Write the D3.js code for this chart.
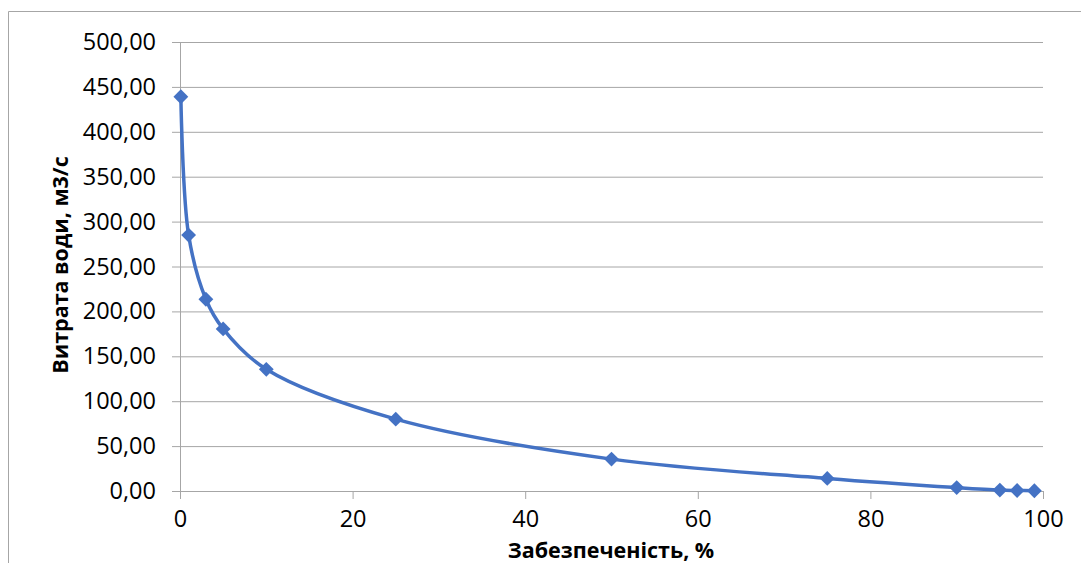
<!DOCTYPE html>
<html>
<head>
<meta charset="utf-8">
<script src="https://cdn.jsdelivr.net/npm/d3@7"></script>
<style>
  body { margin: 0; background: #fff; }
  svg { display: block; font-family: "Open Sans", Calibri, sans-serif; }
</style>
</head>
<body>
<div id="chart"></div>
<script>
// data
var probability = [0.1, 1, 3, 5, 10, 25, 50, 75, 90, 95, 97, 99];
var discharge = [439, 285, 213.5, 180.5, 135.5, 80, 35.5, 14, 3.8, 1.0, 0.6, 0.3];
var yTicks = [0, 50, 100, 150, 200, 250, 300, 350, 400, 450, 500];
var xTicks = [0, 20, 40, 60, 80, 100];

var data = probability.map((p, i) => ({x: p, y: discharge[i]}));

var W = 1081, H = 563;
var margin = {top: 42, right: 38, bottom: 72, left: 180},
    width = W - margin.left - margin.right,
    height = H - margin.top - margin.bottom;

var svg = d3.select("#chart")
  .append("svg")
  .attr("width", W)
  .attr("height", H);

// outer chart border (cut off at right and bottom like the original)
svg.append("path")
  .attr("d", "M8.5," + (H + 2) + "V11.5H" + (W + 2))
  .attr("fill", "none")
  .attr("stroke", "#a6a6a6")
  .attr("stroke-width", 1);

var g = svg.append("g")
  .attr("transform", "translate(" + margin.left + "," + margin.top + ")");

var x = d3.scaleLinear().domain([0, 100]).range([0, width]);
var y = d3.scaleLinear().domain([0, 500]).range([height, 0]);

var fmt = d => d3.format(".2f")(d).replace(".", ",");

// horizontal gridlines + y axis
var yAxis = g.append("g")
  .call(d3.axisLeft(y).tickValues(yTicks).tickSize(-width - 8).tickFormat(fmt).tickPadding(16))
  .attr("transform", "translate(-8,0)");
yAxis.select(".domain").remove();
yAxis.selectAll(".tick line")
  .attr("stroke", "#a6a6a6");
yAxis.selectAll(".tick text")
  .attr("font-size", 23.5)
  .attr("fill", "#000")
  .attr("font-family", "Open Sans");

// vertical axis line
g.append("line")
  .attr("x1", 0.5).attr("x2", 0.5)
  .attr("y1", 0).attr("y2", height + 8)
  .attr("stroke", "#a6a6a6");

// x axis
var xAxis = g.append("g")
  .attr("transform", "translate(0," + height + ")")
  .call(d3.axisBottom(x).tickValues(xTicks).tickSize(8).tickPadding(11));
xAxis.select(".domain").remove();
xAxis.selectAll(".tick line").attr("stroke", "#a6a6a6");
xAxis.selectAll(".tick text")
  .attr("font-size", 23.5)
  .attr("fill", "#000")
  .attr("font-family", "Open Sans");

// series line
var line = d3.line()
  .x(d => x(d.x))
  .y(d => y(d.y))
  .curve(d3.curveCatmullRom.alpha(0.5));

g.append("path")
  .datum(data)
  .attr("d", line)
  .attr("fill", "none")
  .attr("stroke", "#4472c4")
  .attr("stroke-width", 3.5);

// diamond markers
g.selectAll("path.dot")
  .data(data)
  .enter()
  .append("path")
  .attr("class", "dot")
  .attr("d", d3.symbol().type(d3.symbolSquare).size(110))
  .attr("transform", d => "translate(" + x(d.x) + "," + y(d.y) + ") rotate(45)")
  .attr("fill", "#4472c4");

// axis titles
svg.append("text")
  .attr("text-anchor", "middle")
  .attr("transform", "translate(68,265) rotate(-90)")
  .attr("font-size", 21.5)
  .attr("font-weight", "bold")
  .text("Витрата води, м3/с");

svg.append("text")
  .attr("text-anchor", "middle")
  .attr("x", 611)
  .attr("y", 558)
  .attr("font-size", 21.5)
  .attr("font-weight", "bold")
  .text("Забезпеченість, %");
</script>
</body>
</html>
